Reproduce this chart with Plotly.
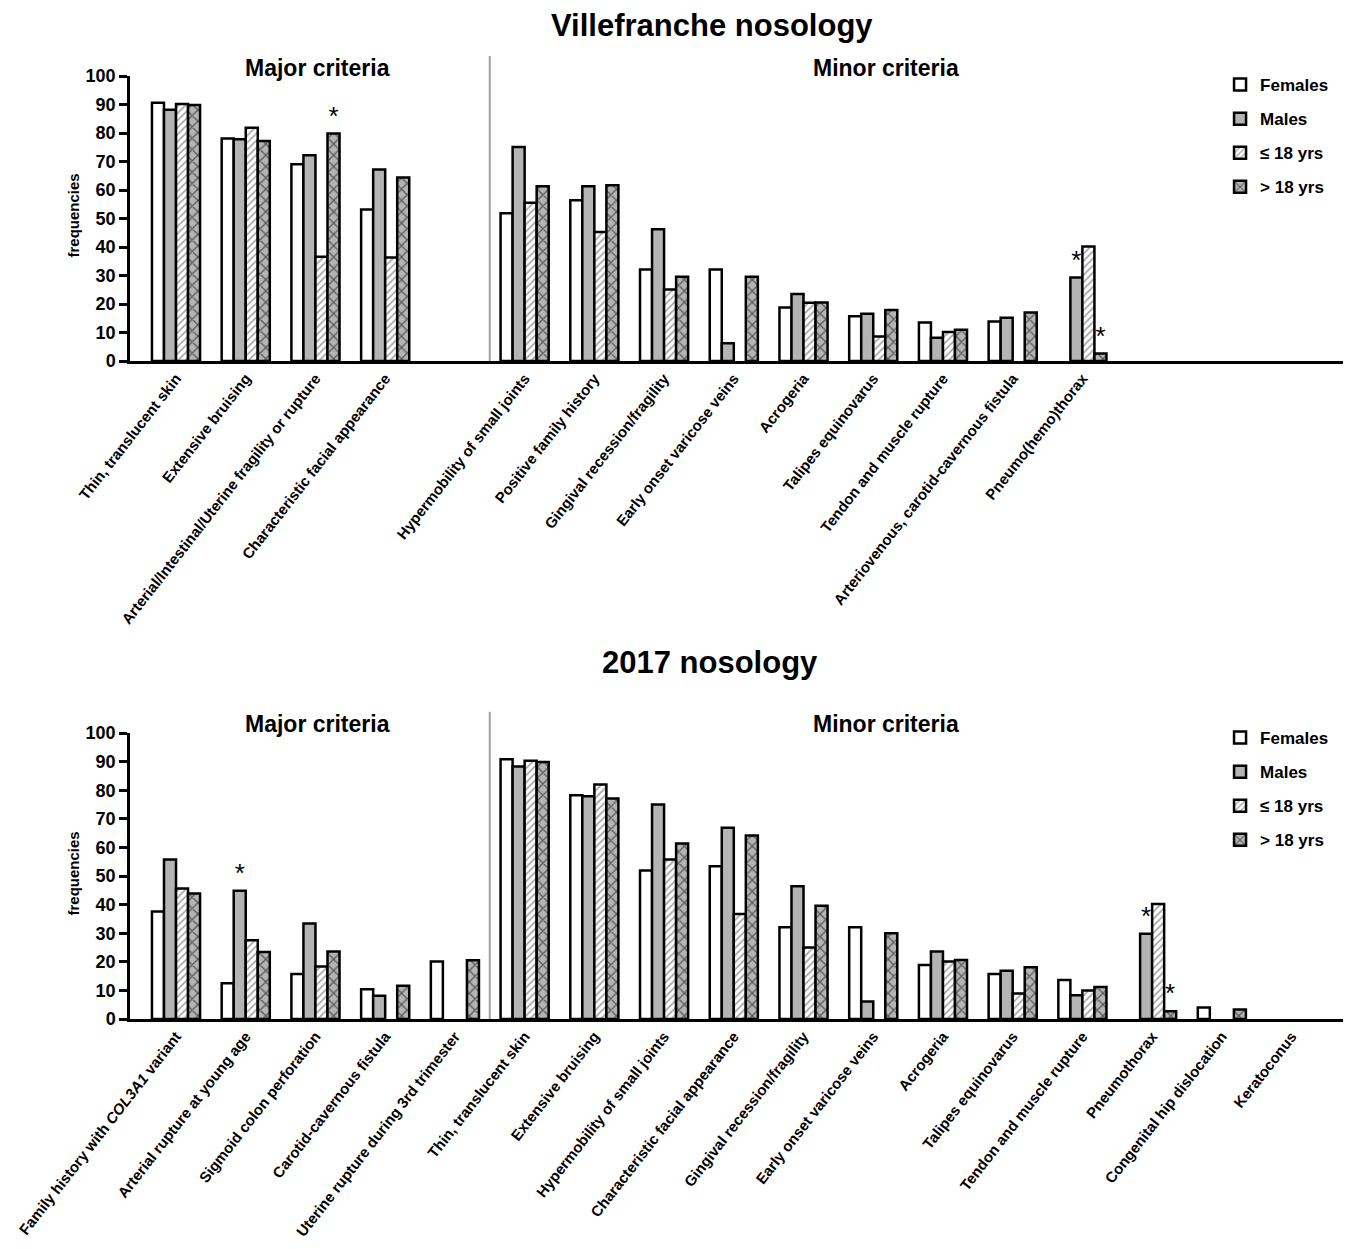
import plotly.graph_objects as go

# ---------------- data ----------------
series_names = ["Females", "Males", "≤ 18 yrs", "> 18 yrs"]

top_major = ["Thin, translucent skin", "Extensive bruising",
             "Arterial/Intestinal/Uterine fragility or rupture",
             "Characteristic facial appearance"]
top_minor = ["Hypermobility of small joints", "Positive family history",
             "Gingival recession/fragility", "Early onset varicose veins",
             "Acrogeria", "Talipes equinovarus", "Tendon and muscle rupture",
             "Arteriovenous, carotid-cavernous fistula", "Pneumo(hemo)thorax"]
top_females = [90.6, 78.1, 69.0, 53.2, 51.8, 56.4, 32.1, 32.1, 18.8, 15.7, 13.5, 13.9, 0]
top_males = [88.2, 77.8, 72.2, 67.2, 75.1, 61.3, 46.2, 6.2, 23.5, 16.6, 8.2, 15.2, 29.3]
top_young = [90.2, 81.8, 36.6, 36.3, 55.5, 45.3, 25.1, 0, 20.4, 8.6, 10.2, 0, 40.2]
top_adult = [89.8, 77.2, 79.8, 64.4, 61.3, 61.7, 29.6, 29.6, 20.5, 17.9, 11.0, 17.0, 2.6]
top_stars = [("Arterial/Intestinal/Uterine fragility or rupture", "> 18 yrs"),
             ("Pneumo(hemo)thorax", "Males"),
             ("Pneumo(hemo)thorax", "> 18 yrs")]

bot_major = ["Family history with <i>COL3A1</i> variant", "Arterial rupture at young age",
             "Sigmoid colon perforation", "Carotid-cavernous fistula",
             "Uterine rupture during 3rd trimester"]
bot_minor = ["Thin, translucent skin", "Extensive bruising", "Hypermobility of small joints",
             "Characteristic facial appearance", "Gingival recession/fragility",
             "Early onset varicose veins", "Acrogeria", "Talipes equinovarus",
             "Tendon and muscle rupture", "Pneumothorax", "Congenital hip dislocation",
             "Keratoconus"]
bot_females = [37.6, 12.5, 15.7, 10.4, 20.1, 90.8, 78.2, 51.9, 53.4, 32.1, 32.1, 18.9, 15.7, 13.6, 0, 4.0, 0]
bot_males = [55.8, 44.8, 33.4, 8.1, 0, 88.3, 77.9, 75.0, 66.9, 46.4, 6.1, 23.6, 16.9, 8.3, 29.8, 0, 0]
bot_young = [45.6, 27.5, 18.4, 0, 0, 90.3, 82.0, 55.8, 36.7, 25.0, 0, 20.1, 8.9, 10.0, 40.2, 0, 0]
bot_adult = [43.9, 23.4, 23.6, 11.6, 20.5, 89.9, 77.1, 61.4, 64.2, 39.6, 30.0, 20.6, 18.1, 11.2, 2.7, 3.3, 0]
bot_stars = [("Arterial rupture at young age", "Males"),
             ("Pneumothorax", "Males"),
             ("Pneumothorax", "> 18 yrs")]

y_ticks = [0, 10, 20, 30, 40, 50, 60, 70, 80, 90, 100]

# ---------------- styling ----------------
FONT = "Liberation Sans, Arial, sans-serif"
OFF = 8                      # page body margin of the browser
W, H = 1351 - OFF, 1249 - OFF
AX_LEFT, AX_RIGHT = 129.5, 1347      # axis extent in reference pixels
ML = AX_LEFT - OFF
MR = W - (AX_RIGHT - OFF)
PW = W - ML - MR

def px_x(px):
    return (px - OFF - ML) / PW

def px_y(py):
    return (H - (py - OFF)) / H

GRAY = "#b4b4b4"
LW = 2.5

def marker(i, vals):
    lw = [LW if (v or 0) > 0 else 0 for v in vals]
    line = dict(color="black", width=lw)
    if i == 0:
        return dict(color="white", line=line)
    if i == 1:
        return dict(color=GRAY, line=line)
    if i == 2:
        return dict(color="white", line=line,
                    pattern=dict(shape="/", bgcolor="white", fgcolor="#555555", size=5, solidity=0.35))
    return dict(color=GRAY, line=line,
                pattern=dict(shape="x", bgcolor=GRAY, fgcolor="black", size=8, solidity=0.3))

fig = go.Figure()

spacer = " "
top_cats = top_major + [spacer] + top_minor
bot_cats = bot_major + bot_minor

def pad_top(vals):
    return vals[:len(top_major)] + [None] + vals[len(top_major):]

top_series = [top_females, top_males, top_young, top_adult]
bot_series = [bot_females, bot_males, bot_young, bot_adult]

for i, name in enumerate(series_names):
    vals = pad_top(top_series[i])
    txt = ["*" if (c, name) in top_stars else "" for c in top_cats]
    fig.add_trace(go.Bar(
        x=top_cats, y=vals, name=name, marker=marker(i, vals), xaxis="x", yaxis="y",
        text=txt, textposition="outside", constraintext="none", cliponaxis=False,
        textfont=dict(family=FONT, size=26, color="black"),
        legend="legend", legendgroup="t" + str(i), offsetgroup=str(i)))

for i, name in enumerate(series_names):
    vals = bot_series[i]
    txt = ["*" if (c, name) in bot_stars else "" for c in bot_cats]
    fig.add_trace(go.Bar(
        x=bot_cats, y=vals, name=name, marker=marker(i, vals), xaxis="x2", yaxis="y2",
        text=txt, textposition="outside", constraintext="none", cliponaxis=False,
        textfont=dict(family=FONT, size=26, color="black"),
        legend="legend2", legendgroup="b" + str(i), offsetgroup=str(i)))

xr = [-0.66, 16.795]
xcommon = dict(type="category", range=xr, showline=True, linecolor="black", linewidth=LW,
               ticks="", tickangle=-52, showgrid=False, zeroline=False,
               tickfont=dict(family=FONT, size=15, color="black", weight="bold"),
               automargin=False, domain=[0, 1])
ycommon = dict(range=[0, 100], tickvals=y_ticks, showline=True, linecolor="black",
               linewidth=LW, ticks="outside", ticklen=8, tickwidth=LW, tickcolor="black",
               showgrid=False, zeroline=False, automargin=False,
               tickfont=dict(family=FONT, size=18, color="black", weight="bold"))

legend_common = dict(xanchor="left", yanchor="top",
                     font=dict(family=FONT, size=17, color="black", weight="bold"),
                     tracegroupgap=9, bgcolor="rgba(0,0,0,0)")

fig.update_layout(
    width=W, height=H,
    margin=dict(l=ML, r=MR, t=0, b=0),
    paper_bgcolor="white", plot_bgcolor="white",
    barmode="group", bargap=0.31, bargroupgap=0,
    font=dict(family=FONT, color="black"),
    xaxis=dict(**xcommon, anchor="y"),
    yaxis=dict(**ycommon, domain=[px_y(361), px_y(76)], anchor="x"),
    xaxis2=dict(**xcommon, anchor="y2"),
    yaxis2=dict(**ycommon, domain=[px_y(1019), px_y(733)], anchor="x2"),
    legend=dict(x=px_x(1220), y=px_y(67), **legend_common),
    legend2=dict(x=px_x(1220), y=px_y(720), **legend_common),
    showlegend=True,
)

# divider lines between major and minor criteria
top_div = len(top_major) + 0.5
bot_div = len(bot_major) - 0.5
fig.add_shape(type="line", xref="x", yref="y domain", x0=top_div, x1=top_div, y0=0, y1=1.07,
              line=dict(color="#a0a0a0", width=2))
fig.add_shape(type="line", xref="x2", yref="y2 domain", x0=bot_div, x1=bot_div, y0=0, y1=1.074,
              line=dict(color="#a0a0a0", width=2))

anns = [
    ("Villefranche nosology", 712, 25, 31),
    ("2017 nosology", 710, 662, 31),
    ("Major criteria", 317, 68, 23),
    ("Minor criteria", 886, 68, 23),
    ("Major criteria", 317, 724, 23),
    ("Minor criteria", 886, 724, 23),
]
for t, x, y, s in anns:
    fig.add_annotation(text=t, xref="paper", yref="paper", x=px_x(x), y=px_y(y),
                       xanchor="center", yanchor="middle", showarrow=False,
                       font=dict(family=FONT, size=s, color="black", weight="bold"))
for y in (216, 874):
    fig.add_annotation(text="frequencies", xref="paper", yref="paper", x=px_x(72), y=px_y(y),
                       xanchor="center", yanchor="middle", showarrow=False, textangle=-90,
                       font=dict(family=FONT, size=15, color="black", weight="bold"))

fig.write_html("out.html")
